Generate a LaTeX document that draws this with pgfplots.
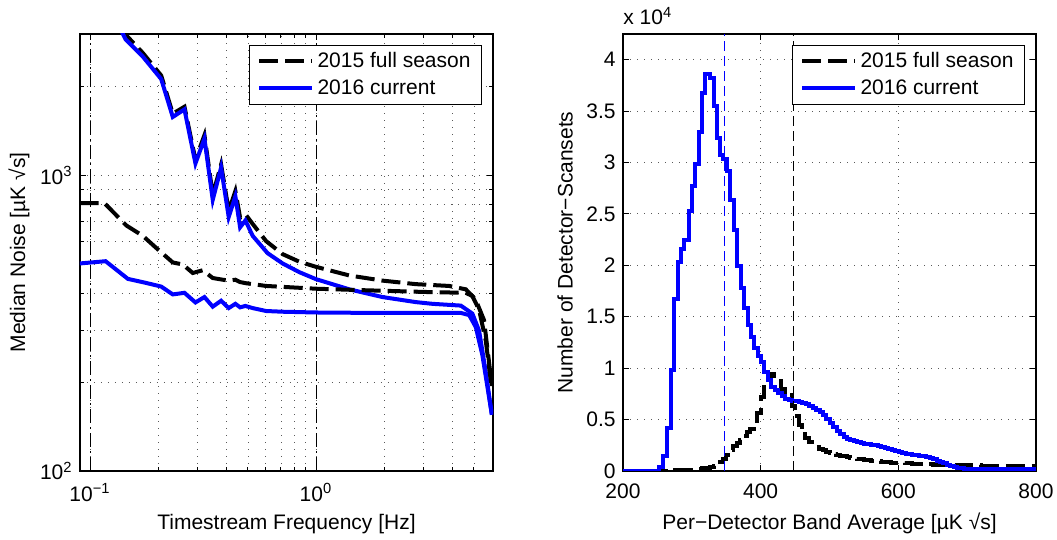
\documentclass[border=0pt]{standalone}
\usepackage{fontspec}
\setmainfont{Liberation Sans}
\usepackage{pgfplots}
\pgfplotsset{compat=1.18}

\definecolor{mblue}{RGB}{0,0,255}

\pgfplotsset{
  panel/.style={
    scale only axis, width=206.5pt, height=218.5pt,
    axis line style={line width=0.6pt},
    tick style={black, line width=0.5pt},
    major tick length=3pt, minor tick length=1.8pt,
    tick align=inside,
    /pgf/number format/assume math mode=true,
    grid style={black!65, line width=0.45pt, dash pattern=on 0.6pt off 2.9pt},
    xticklabel style={yshift=-2.6pt},
    legend style={at={(1,1)}, anchor=north east, xshift=-5.5pt, yshift=-5.5pt,
      draw=black, line width=0.5pt, inner xsep=3.75pt, inner ysep=1.25pt, row sep=0pt,
      nodes={inner xsep=1.75pt, inner ysep=1.75pt, text height=0.75em, text depth=0.2em}},
    legend cell align=left,
    legend image code/.code={\draw[##1] (0pt,0pt) -- (26.5pt,0pt);},
  },
  s15/.style={black, line width=2pt, dash pattern=on 9.5pt off 3.5pt},
  s16/.style={mblue, line width=2pt},
}

\begin{document}
\fontsize{10.5}{12.6}\selectfont
\begin{tikzpicture}
\path[use as bounding box] (0,0) rectangle (528.5pt,270pt);

% left: noise spectra
\begin{axis}[panel, at={(40pt,34.5pt)}, anchor=south west,
    xmode=log, ymode=log,
    xmin=0.0903, xmax=6.07, ymin=100, ymax=3015,
    xtick={0.1,1}, xticklabels={10\textsuperscript{−1},10\textsuperscript{0}},
    ytick={100,1000}, yticklabels={10\textsuperscript{2},10\textsuperscript{3}},
    minor xtick={0.2,0.3,0.4,0.5,0.6,0.7,0.8,0.9,2,3,4,5},
    minor ytick={200,300,400,500,600,700,800,900,2000},
    grid=both,
    xlabel={Timestream Frequency [Hz]},
    ylabel={Median Noise [µK √s]},
    xlabel style={at={(axis description cs:0.5,-0.135)}, anchor=base},
    ylabel style={at={(axis description cs:-0.1477,0.5)}, anchor=center},
  ]
  \addplot[black, line width=0.5pt, dash pattern=on 7pt off 2pt on 1pt off 2pt, forget plot]
    coordinates {(0.1,100) (0.1,3015)};
  \addplot[black, line width=0.5pt, dash pattern=on 7pt off 2pt on 1pt off 2pt, forget plot]
    coordinates {(1,100) (1,3015)};

  \addplot[s15] coordinates {
    (0.139,3150) (0.1437,3000) (0.1713,2600) (0.2066,2180) (0.2324,1620) (0.2618,1710)
    (0.2928,1130) (0.3209,1370) (0.3492,860) (0.3803,1090) (0.4109,760) (0.4398,886)
    (0.4615,720) (0.487,740) (0.5246,686) (0.6014,600) (0.712,542) (0.8437,511) (1,491)
    (1.404,459) (1.969,441) (2.766,429) (3.886,423) (4.6,412) (5.09,380) (5.54,324) (6.0,194)
  };
  \addlegendentry{2015 full season\hspace{5.5pt}}
  \addplot[s16] coordinates {
    (0.136,3150) (0.1437,2890) (0.1713,2527) (0.2066,2121) (0.2324,1579) (0.2618,1675)
    (0.2928,1099) (0.3209,1334) (0.3492,828) (0.3803,1064) (0.4109,724) (0.4398,851)
    (0.4615,668) (0.487,705) (0.5246,625) (0.611,546) (0.712,504) (0.8437,471) (1,446)
    (1.404,412) (1.969,388) (2.766,373) (3.275,368) (4.372,363) (4.92,341) (5.27,298)
    (5.64,216) (6.0,155)
  };
  \addlegendentry{2016 current\hspace{5.5pt}}

  \addplot[s15, forget plot] coordinates {
    (0.09,806) (0.116,806) (0.1447,678) (0.1713,625) (0.1963,569) (0.2324,508) (0.2573,500)
    (0.2849,468) (0.3154,478) (0.3492,450) (0.3803,445) (0.4109,441) (0.4398,444)
    (0.4615,436) (0.4906,432) (0.6014,423) (1,414) (1.663,409) (3.275,403) (4.6,401)
    (4.92,391) (5.27,351) (5.64,276) (6.0,189)
  };
  \addplot[s16, forget plot] coordinates {
    (0.09,504) (0.1172,513) (0.1471,447) (0.1773,433) (0.2066,421) (0.2324,396)
    (0.2618,401) (0.2928,372) (0.3209,388) (0.3492,360) (0.3803,377) (0.4109,356)
    (0.4398,368) (0.4615,358) (0.487,362) (0.5246,356) (0.6014,348) (0.712,346) (1,344)
    (1.663,343) (3.275,343) (4.372,343) (4.762,337) (5.094,307) (5.446,247) (6.0,155)
  };
\end{axis}

% right: histograms of band averages
\begin{axis}[panel, at={(311.5pt,34.5pt)}, anchor=south west,
    xmin=200, xmax=800, ymin=0, ymax=42500,
    xtick={200,400,600,800},
    ytick={0,5000,10000,15000,20000,25000,30000,35000,40000},
    scaled y ticks=base 10:-4,
    ytick scale label code/.code={x 10\textsuperscript{#1}},
    every y tick scale label/.style={at={(rel axis cs:0,1)}, anchor=base west, inner sep=0pt, yshift=4.5pt},
    grid=major,
    xlabel={Per−Detector Band Average [µK √s]},
    ylabel={Number of Detector−Scansets},
    xlabel style={at={(axis description cs:0.5,-0.135)}, anchor=base},
    ylabel style={at={(axis description cs:-0.1404,0.5)}, anchor=center},
  ]
  \addplot[s15, const plot] coordinates {
    (200,0) (255,20) (265,40) (275,60) (285,80) (295,110) (305,160) (315,250) (322,300)
    (327,370) (332,480) (337,620) (341,850) (345,1200) (350,1600) (355,2000) (360,2400)
    (365,2750) (370,3000) (375,3400) (380,3800) (385,4100) (390,4600) (395,5600)
    (400,7200) (405,8400) (410,9000) (415,9450) (420,9200) (425,8800) (430,8000)
    (435,7400) (440,7350) (445,6300) (450,5300) (455,4500) (460,3800) (465,3200)
    (470,2800) (475,2550) (480,2350) (485,2150) (490,2000) (495,1850) (500,1750)
    (505,1650) (510,1550) (515,1480) (520,1410) (525,1350) (530,1280) (535,1220)
    (540,1170) (545,1130) (550,1090) (555,1050) (560,1010) (565,970) (570,940)
    (575,910) (580,880) (585,850) (590,820) (595,800) (600,770) (610,730) (620,700)
    (630,670) (640,640) (650,620) (660,600) (670,580) (680,570) (690,560) (700,550)
    (720,530) (740,510) (760,490) (780,470) (800,460)
  };
  \addlegendentry{2015 full season\hspace{5.5pt}}
  \addplot[s16, const plot] coordinates {
    (200,0) (252,400) (258,1500) (264.5,4200) (269.5,9800) (274.3,16700) (279.2,20300)
    (284,21600) (289,22500) (295.5,25300) (300.5,27700) (305.3,29900) (310.2,33000)
    (315,36750) (318.7,38650) (326,38200) (332,35450) (336.8,32400) (341,30750)
    (345.3,30300) (350.6,29200) (355.7,26400) (361,23400) (366.3,19900) (371.2,17800)
    (376,15900) (381,14200) (385.7,13000) (390.5,12000) (395.4,11200) (400.7,10600)
    (405.5,9650) (410.5,8850) (415.5,8200) (420.5,7850) (425.5,7550) (430.5,7250)
    (435.5,7050) (440.5,6900) (445.5,6850) (450.5,6800) (455.5,6750) (460.5,6650)
    (465.5,6500) (470.5,6350) (475.5,6150) (480.5,5950) (485.5,5700) (490.5,5400)
    (495.5,5050) (500.5,4700) (505.5,4300) (510.5,3900) (515.5,3550) (520.5,3300)
    (525.5,3150) (530.5,3000) (535.5,2900) (540.5,2800) (545.5,2700) (550.5,2650)
    (555.5,2600) (560.5,2550) (565.5,2500) (570.5,2400) (575.5,2300) (580.5,2200)
    (585.5,2100) (590.5,2050) (595.5,1950) (600.5,1850) (605.5,1750) (610.5,1700)
    (615.5,1650) (620.5,1600) (625.5,1550) (630.5,1500) (635.5,1450) (640.5,1350)
    (645.5,1250) (650.5,1150) (655.5,1000) (660.5,900) (665.5,750) (670.5,600)
    (675.5,500) (680.5,400) (685.5,300) (690.5,250) (695.5,200) (710,190) (730,180)
    (750,170) (770,170) (790,160) (800,160)
  };
  \addlegendentry{2016 current\hspace{5.5pt}}
  \addplot[mblue, line width=0.6pt, dash pattern=on 5pt off 2.5pt, forget plot]
    coordinates {(347,0) (347,42500)};
  \addplot[black, line width=0.6pt, dash pattern=on 5pt off 2.5pt, forget plot]
    coordinates {(448,0) (448,42500)};
\end{axis}
\end{tikzpicture}
\end{document}
